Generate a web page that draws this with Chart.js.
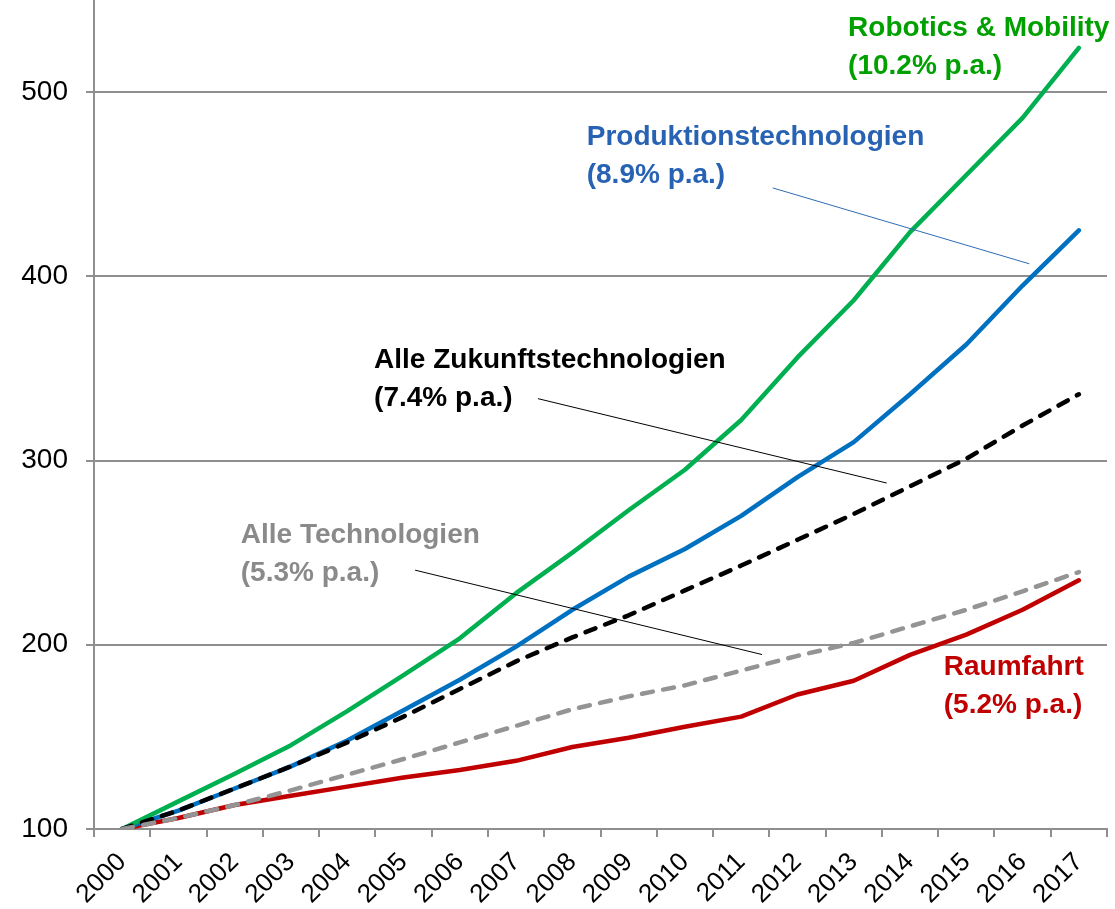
<!DOCTYPE html>
<html lang="de">
  <head>
    <meta charset="UTF-8" />
    <title>Patentwachstum Zukunftstechnologien</title>
    <script src="https://cdn.jsdelivr.net/npm/chart.js"></script>
    <style>
      html, body { margin: 0; padding: 0; background: #fff; }
      .chart-box { width: 1115px; height: 909px; position: relative; }
    </style>
  </head>
  <body>
    <div class="chart-box">
      <canvas id="growthChart"></canvas>
    </div>

    <script>
      // categories
      const years = [
        "2000", "2001", "2002", "2003", "2004", "2005", "2006", "2007", "2008",
        "2009", "2010", "2011", "2012", "2013", "2014", "2015", "2016", "2017",
      ];

      // series values (index, 2000 = 100)
      const robotics = [100, 115, 130, 145.5, 164, 183.5, 203.5, 228, 250, 273, 295, 322, 356, 387, 424, 455, 486, 524];
      const produktion = [100, 110, 122, 134, 148, 164.5, 181, 199, 219, 237, 252, 270, 291, 310, 336, 363, 395, 425];
      const zukunft = [100, 110, 122, 134, 147, 161, 176, 191, 204, 216, 229.5, 243, 257, 271, 286, 301, 319, 336];
      const alleTech = [100, 106, 113, 121, 129.5, 138, 147, 156, 165, 172, 178, 186, 194, 201, 210, 219, 229, 239.5];
      const raumfahrt = [100, 106, 113, 118, 123, 128, 132, 137, 144.5, 149.5, 155.5, 161, 173, 180.5, 194.5, 205.5, 219, 235];

      // tick labels
      const yTicks = [100, 200, 300, 400, 500];

      // labels next to the lines, anchored in data units (category index, value)
      const notes = [
        { lines: ["Robotics & Mobility", "(10.2% p.a.)"], color: "#00a000", at: [12.9, 530.6] },
        { lines: ["Produktionstechnologien", "(8.9% p.a.)"], color: "#2862b3", at: [8.255, 471.3] },
        { lines: ["Alle Zukunftstechnologien", "(7.4% p.a.)"], color: "#000000", at: [4.477, 350] },
        { lines: ["Alle Technologien", "(5.3% p.a.)"], color: "#8a8a8a", at: [2.108, 255.3] },
        { lines: ["Raumfahrt", "(5.2% p.a.)"], color: "#c00000", at: [14.6, 183.5] },
      ];
      const leaders = [
        { from: [11.56, 448], to: [16.12, 406.8], color: "#2e6bb5" },
        { from: [7.39, 333.6], to: [13.585, 287.8], color: "#000000" },
        { from: [5.206, 240.5], to: [11.37, 194.7], color: "#000000" },
      ];

      const gridGray = "#8f8f8f";
      const fontFamily = "'Liberation Sans', Arial, sans-serif";

      const notesPlugin = {
        id: "notes",
        afterDatasetsDraw(chart) {
          const { ctx, scales } = chart;
          const x = scales.x;
          const y = scales.y;
          ctx.save();
          ctx.lineWidth = 1;
          for (const l of leaders) {
            ctx.strokeStyle = l.color;
            ctx.beginPath();
            ctx.moveTo(x.getPixelForValue(l.from[0]), y.getPixelForValue(l.from[1]));
            ctx.lineTo(x.getPixelForValue(l.to[0]), y.getPixelForValue(l.to[1]));
            ctx.stroke();
          }
          ctx.font = "bold 28px " + fontFamily;
          ctx.textAlign = "left";
          ctx.textBaseline = "alphabetic";
          for (const n of notes) {
            ctx.fillStyle = n.color;
            const px = x.getPixelForValue(n.at[0]);
            const py = y.getPixelForValue(n.at[1]);
            n.lines.forEach((t, i) => ctx.fillText(t, px, py + i * 38));
          }
          ctx.restore();
        },
      };

      const lineStyle = (label, data, color, dash) => ({
        label: label,
        data: data,
        borderColor: color,
        backgroundColor: color,
        borderWidth: 4.5,
        borderDash: dash || [],
        borderCapStyle: "round",
        borderJoinStyle: "round",
        pointRadius: 0,
        tension: 0,
        fill: false,
      });

      document.addEventListener("DOMContentLoaded", function () {
        const ctx = document.getElementById("growthChart").getContext("2d");
        new Chart(ctx, {
          type: "line",
          data: {
            labels: years,
            // first dataset is drawn on top
            datasets: [
              lineStyle("Alle Technologien", alleTech, "#949494", [11, 10.5]),
              lineStyle("Alle Zukunftstechnologien", zukunft, "#000000", [10.5, 10.5]),
              lineStyle("Robotics & Mobility", robotics, "#00b050"),
              lineStyle("Produktionstechnologien", produktion, "#0070c0"),
              lineStyle("Raumfahrt", raumfahrt, "#c00000"),
            ],
          },
          options: {
            responsive: true,
            maintainAspectRatio: false,
            animation: false,
            layout: { padding: { left: 20, right: 8, top: 0, bottom: 0 } },
            plugins: {
              legend: { display: false },
              tooltip: { enabled: false },
            },
            scales: {
              x: {
                offset: true,
                grid: {
                  offset: true,
                  drawOnChartArea: false,
                  drawTicks: true,
                  tickLength: 8,
                  color: gridGray,
                  lineWidth: 2,
                },
                border: { display: true, color: gridGray, width: 2 },
                ticks: {
                  autoSkip: false,
                  maxRotation: 45,
                  minRotation: 45,
                  padding: 10,
                  color: "#000",
                  font: { family: fontFamily, size: 26 },
                },
                // fixed band for the rotated year labels
                afterFit: (scale) => {
                  scale.height = 80;
                  scale.paddingLeft = 0;
                  scale.paddingRight = 0;
                },
              },
              y: {
                min: 100,
                max: 550,
                grid: { color: gridGray, lineWidth: 2, tickLength: 8 },
                border: { display: true, color: gridGray, width: 2 },
                ticks: {
                  stepSize: 100,
                  includeBounds: false,
                  padding: 18,
                  color: "#000",
                  font: { family: fontFamily, size: 28 },
                  callback: (v) => (yTicks.includes(v) ? String(v) : ""),
                },
                // axis runs to the top edge of the picture
                afterFit: (scale) => {
                  scale.width = 74;
                  scale.paddingTop = 0;
                },
              },
            },
          },
          plugins: [notesPlugin],
        });
      });
    </script>
  </body>
</html>
